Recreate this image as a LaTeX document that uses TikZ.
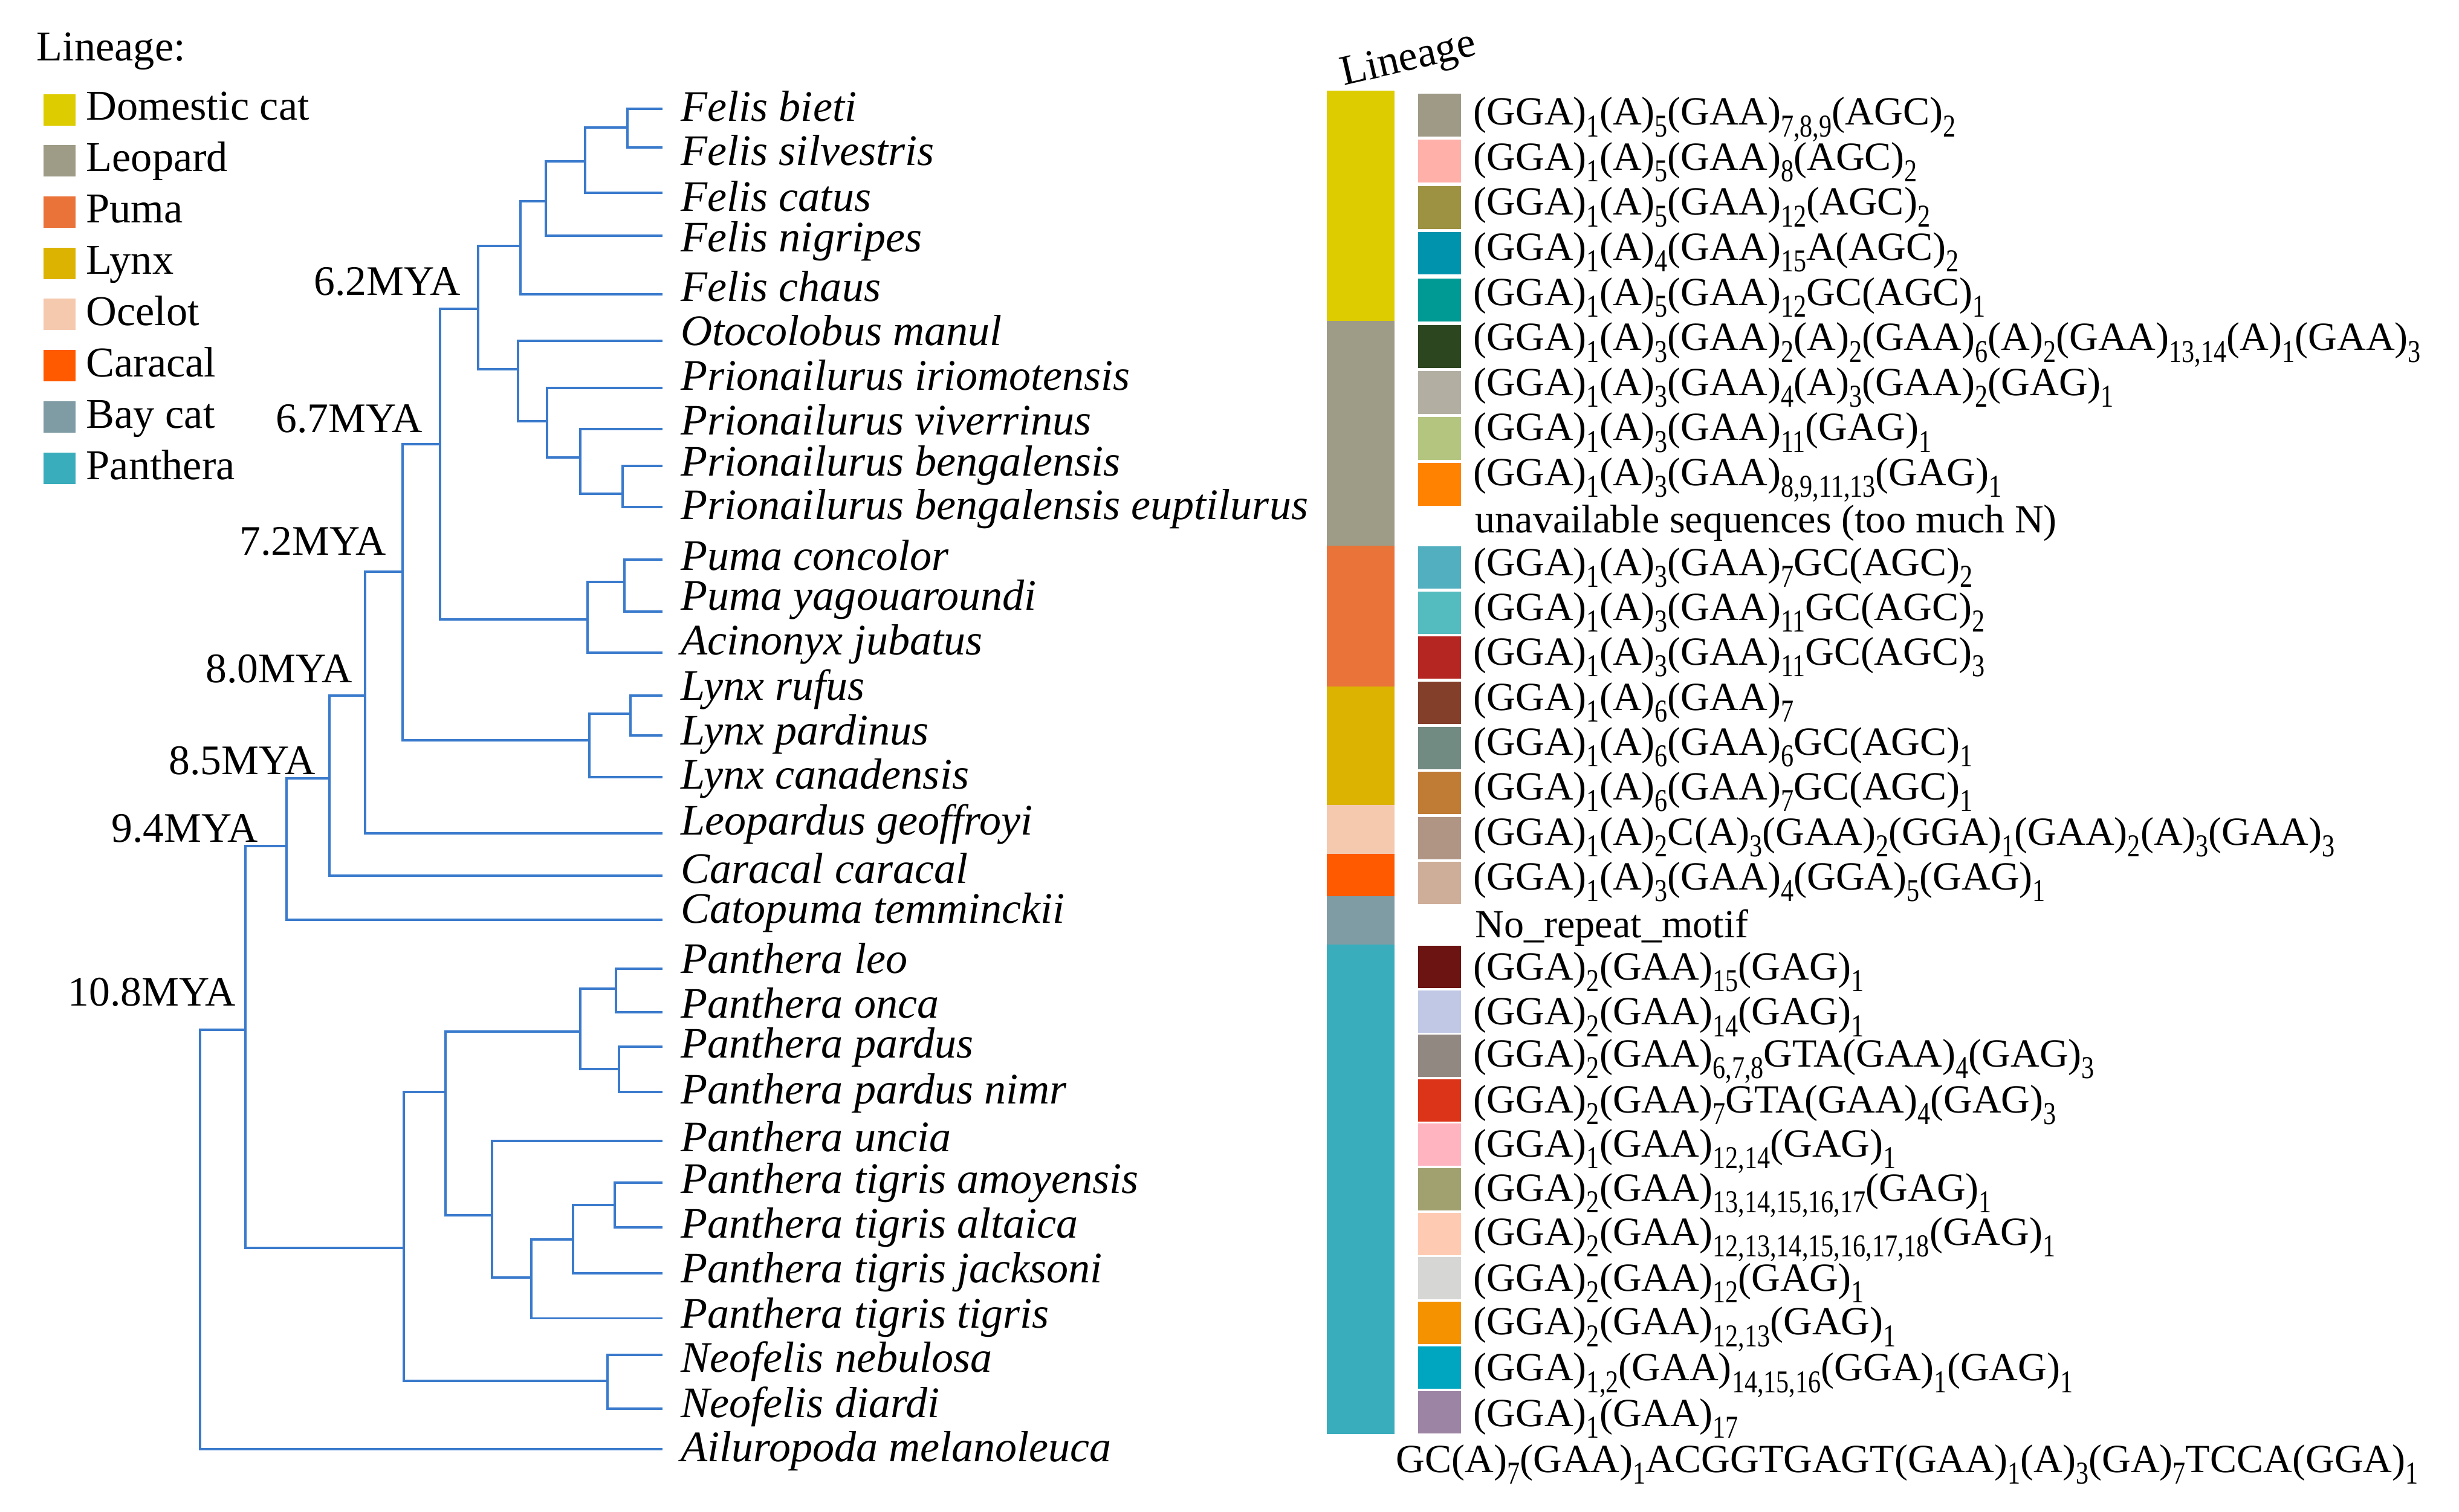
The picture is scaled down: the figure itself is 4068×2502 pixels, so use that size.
\documentclass[tikz,border=0pt]{standalone}
\usepackage{fontspec}
\setmainfont{Liberation Serif}
\usepackage{graphicx}
% tree and lineage colours
\definecolor{treeblue}{RGB}{58,122,204}
\definecolor{cdom}{RGB}{221,204,0}
\definecolor{cleo}{RGB}{158,155,134}
\definecolor{cpum}{RGB}{233,115,57}
\definecolor{clyn}{RGB}{220,179,0}
\definecolor{coce}{RGB}{245,201,174}
\definecolor{ccar}{RGB}{255,90,0}
\definecolor{cbay}{RGB}{127,156,164}
\definecolor{cpan}{RGB}{58,173,189}
% motif colours
\definecolor{m1}{HTML}{9E9A86}
\definecolor{m2}{HTML}{FFB0A8}
\definecolor{m3}{HTML}{9C9241}
\definecolor{m4}{HTML}{0093AE}
\definecolor{m5}{HTML}{009A95}
\definecolor{m6}{HTML}{2C4720}
\definecolor{m7}{HTML}{B2AFA2}
\definecolor{m8}{HTML}{B4C57F}
\definecolor{m9}{HTML}{FF8200}
\definecolor{m11}{HTML}{52AFC0}
\definecolor{m12}{HTML}{54BBBE}
\definecolor{m13}{HTML}{B52622}
\definecolor{m14}{HTML}{843F2B}
\definecolor{m15}{HTML}{718B82}
\definecolor{m16}{HTML}{C07B35}
\definecolor{m17}{HTML}{B09585}
\definecolor{m18}{HTML}{CEAE98}
\definecolor{m20}{HTML}{6B1412}
\definecolor{m21}{HTML}{C1C8E5}
\definecolor{m22}{HTML}{928882}
\definecolor{m23}{HTML}{DC3418}
\definecolor{m24}{HTML}{FFB4C0}
\definecolor{m25}{HTML}{A0A16F}
\definecolor{m26}{HTML}{FECBB2}
\definecolor{m27}{HTML}{D6D6D4}
\definecolor{m28}{HTML}{F59200}
\definecolor{m29}{HTML}{00A6C0}
\definecolor{m30}{HTML}{9C84A5}
\newcommand{\sbs}[1]{\raisebox{-5.5pt}{\scalebox{1}[1.25]{\fontsize{12}{12}\selectfont #1}}}
\tikzset{
  branch/.style={draw=treeblue, line width=0.9pt},
  species/.style={font=\fontsize{20.5}{24}\selectfont\itshape, anchor=base west, inner sep=0pt},
  mya/.style={font=\fontsize{19.8}{24}\selectfont, anchor=base west, inner sep=0pt},
  legtext/.style={font=\fontsize{20}{24}\selectfont, anchor=base west, inner sep=0pt},
  seq/.style={font=\fontsize{18.8}{22}\selectfont, anchor=base west, inner sep=0pt}
}
\begin{document}
\begin{tikzpicture}[x=0.01cm, y=-0.01cm]
    \useasboundingbox (0,0) rectangle (4068,2502);
    % legend
    \node[legtext] (lgtitle) at (60,100) {Lineage:};
    \fill[cdom] (71.5,155.6) rectangle +(53.5,52);
    \fill[cleo] (71.5,240.3) rectangle +(53.5,52);
    \fill[cpum] (71.5,325) rectangle +(53.5,52);
    \fill[clyn] (71.5,409.7) rectangle +(53.5,52);
    \fill[coce] (71.5,494.4) rectangle +(53.5,52);
    \fill[ccar] (71.5,579.1) rectangle +(53.5,52);
    \fill[cbay] (71.5,663.8) rectangle +(53.5,52);
    \fill[cpan] (71.5,748.5) rectangle +(53.5,52);
    \node[legtext] (lgdom) at (142,198) {Domestic cat};
    \node[legtext] (lgleo) at (142,283) {Leopard};
    \node[legtext] (lgpum) at (142,368) {Puma};
    \node[legtext] (lglyn) at (142,453) {Lynx};
    \node[legtext] (lgoce) at (142,538) {Ocelot};
    \node[legtext] (lgcar) at (142,623.5) {Caracal};
    \node[legtext] (lgbay) at (142,708.6) {Bay cat};
    \node[legtext] (lgpan) at (142,793.7) {Panthera};
    % divergence times
    \node[mya] (m62) at (519,488) {6.2MYA};
    \node[mya] (m67) at (456,715.6) {6.7MYA};
    \node[mya] (m72) at (396,918) {7.2MYA};
    \node[mya] (m80) at (340,1129) {8.0MYA};
    \node[mya] (m85) at (279,1281) {8.5MYA};
    \node[mya] (m94) at (184,1393.6) {9.4MYA};
    \node[mya] (m108) at (112,1664) {10.8MYA};
    % species
    \node[species] (bieti) at (1126,200) {Felis bieti};
    \node[species] (silv) at (1126,273) {Felis silvestris};
    \node[species] (catus) at (1126,349) {Felis catus};
    \node[species] (nigr) at (1126,416) {Felis nigripes};
    \node[species] (chaus) at (1126,498) {Felis chaus};
    \node[species] (manul) at (1126,571.5) {Otocolobus manul};
    \node[species] (irio) at (1126,645) {Prionailurus iriomotensis};
    \node[species] (viv) at (1126,719.5) {Prionailurus viverrinus};
    \node[species] (beng) at (1126,787) {Prionailurus bengalensis};
    \node[species] (eupt) at (1126,859) {Prionailurus bengalensis euptilurus};
    \node[species] (conc) at (1126,943) {Puma concolor};
    \node[species] (yag) at (1126,1009) {Puma yagouaroundi};
    \node[species] (jub) at (1126,1083) {Acinonyx jubatus};
    \node[species] (rufus) at (1126,1158) {Lynx rufus};
    \node[species] (pard) at (1126,1232) {Lynx pardinus};
    \node[species] (canad) at (1126,1305) {Lynx canadensis};
    \node[species] (geof) at (1126,1381) {Leopardus geoffroyi};
    \node[species] (carac) at (1126,1461) {Caracal caracal};
    \node[species] (temm) at (1126,1527.5) {Catopuma temminckii};
    \node[species] (leo) at (1126,1610) {Panthera leo};
    \node[species] (onca) at (1126,1684) {Panthera onca};
    \node[species] (ppard) at (1126,1750) {Panthera pardus};
    \node[species] (nimr) at (1126,1826) {Panthera pardus nimr};
    \node[species] (uncia) at (1126,1905) {Panthera uncia};
    \node[species] (amoy) at (1126,1974) {Panthera tigris amoyensis};
    \node[species] (alta) at (1126,2048) {Panthera tigris altaica};
    \node[species] (jack) at (1126,2122) {Panthera tigris jacksoni};
    \node[species] (tigr) at (1126,2197) {Panthera tigris tigris};
    \node[species] (nebu) at (1126,2270.7) {Neofelis nebulosa};
    \node[species] (diar) at (1126,2345) {Neofelis diardi};
    \node[species] (ailu) at (1126,2418) {Ailuropoda melanoleuca};
    % branch tips
    \coordinate (tbieti) at (1096,180);
    \coordinate (tsilv) at (1096,244);
    \coordinate (tcatus) at (1096,319);
    \coordinate (tnigr) at (1096,390);
    \coordinate (tchaus) at (1096,487);
    \coordinate (tmanul) at (1096,564);
    \coordinate (tirio) at (1096,642);
    \coordinate (tviv) at (1096,710);
    \coordinate (tbeng) at (1096,771);
    \coordinate (teupt) at (1096,839);
    \coordinate (tconc) at (1096,926);
    \coordinate (tyag) at (1096,1012);
    \coordinate (tjub) at (1096,1080);
    \coordinate (trufus) at (1096,1151);
    \coordinate (tpard) at (1096,1217);
    \coordinate (tcanad) at (1096,1286);
    \coordinate (tgeof) at (1096,1379);
    \coordinate (tcarac) at (1096,1449);
    \coordinate (ttemm) at (1096,1522);
    \coordinate (tleo) at (1096,1603);
    \coordinate (tonca) at (1096,1675);
    \coordinate (tppard) at (1096,1732);
    \coordinate (tnimr) at (1096,1807);
    \coordinate (tuncia) at (1096,1888);
    \coordinate (tamoy) at (1096,1957);
    \coordinate (talta) at (1096,2031);
    \coordinate (tjack) at (1096,2107);
    \coordinate (ttigr) at (1096,2181.5);
    \coordinate (tnebu) at (1096,2242);
    \coordinate (tdiar) at (1096,2331);
    \coordinate (tailu) at (1096,2398);
    % inner nodes
    \coordinate (fA) at (1038,211);
    \coordinate (fB) at (968,267);
    \coordinate (fC) at (903,333);
    \coordinate (fD) at (861,407);
    \coordinate (pA) at (1030,817);
    \coordinate (pB) at (960,757);
    \coordinate (pC) at (905,697);
    \coordinate (pD) at (857,611);
    \coordinate (fE) at (791,511);
    \coordinate (uA) at (1033,963);
    \coordinate (uB) at (972,1025);
    \coordinate (n62) at (728,735);
    \coordinate (yA) at (1043,1181);
    \coordinate (yB) at (975,1225);
    \coordinate (n67) at (666,946);
    \coordinate (n72) at (604,1151);
    \coordinate (n80) at (545,1288);
    \coordinate (n85) at (474,1400);
    \coordinate (kA) at (1019,1636);
    \coordinate (kB) at (1024,1769);
    \coordinate (kC) at (960,1707);
    \coordinate (kD) at (1017,1994);
    \coordinate (kE) at (948,2051);
    \coordinate (kF) at (879,2114);
    \coordinate (kG) at (814,2011);
    \coordinate (kH) at (737,1807);
    \coordinate (kI) at (1005,2285);
    \coordinate (kJ) at (668,2065);
    \coordinate (n94) at (406,1704);
    \coordinate (root) at (331,1704);
    % branches
    \draw[branch] (tbieti) -| (fA) |- (tsilv);
    \draw[branch] (fA) -| (fB) |- (tcatus);
    \draw[branch] (fB) -| (fC) |- (tnigr);
    \draw[branch] (fC) -| (fD) |- (tchaus);
    \draw[branch] (tbeng) -| (pA) |- (teupt);
    \draw[branch] (tviv) -| (pB) |- (pA);
    \draw[branch] (tirio) -| (pC) |- (pB);
    \draw[branch] (tmanul) -| (pD) |- (pC);
    \draw[branch] (fD) -| (fE) |- (pD);
    \draw[branch] (tconc) -| (uA) |- (tyag);
    \draw[branch] (uA) -| (uB) |- (tjub);
    \draw[branch] (fE) -| (n62) |- (uB);
    \draw[branch] (trufus) -| (yA) |- (tpard);
    \draw[branch] (yA) -| (yB) |- (tcanad);
    \draw[branch] (n62) -| (n67) |- (yB);
    \draw[branch] (n67) -| (n72) |- (tgeof);
    \draw[branch] (n72) -| (n80) |- (tcarac);
    \draw[branch] (n80) -| (n85) |- (ttemm);
    \draw[branch] (tleo) -| (kA) |- (tonca);
    \draw[branch] (tppard) -| (kB) |- (tnimr);
    \draw[branch] (kA) -| (kC) |- (kB);
    \draw[branch] (tamoy) -| (kD) |- (talta);
    \draw[branch] (kD) -| (kE) |- (tjack);
    \draw[branch] (kE) -| (kF) |- (ttigr);
    \draw[branch] (tuncia) -| (kG) |- (kF);
    \draw[branch] (kC) -| (kH) |- (kG);
    \draw[branch] (tnebu) -| (kI) |- (tdiar);
    \draw[branch] (kH) -| (kJ) |- (kI);
    \draw[branch] (n85) -| (n94) |- (kJ);
    \draw[branch] (n94) -- (root) |- (tailu);
    % lineage bar
    \node[legtext, anchor=base west, rotate=13] (lintitle) at (2223,142) {Lineage};
    \fill[cdom] (2195,150.4) rectangle (2306.6,531);
    \fill[cleo] (2195,531) rectangle (2306.6,902.5);
    \fill[cpum] (2195,902.5) rectangle (2306.6,1135.7);
    \fill[clyn] (2195,1135.7) rectangle (2306.6,1332);
    \fill[coce] (2195,1332) rectangle (2306.6,1412.8);
    \fill[ccar] (2195,1412.8) rectangle (2306.6,1482.7);
    \fill[cbay] (2195,1482.7) rectangle (2306.6,1563);
    \fill[cpan] (2195,1563) rectangle (2306.6,2372.7);
    % motif swatches
    \fill[m1] (2346,155) rectangle +(71,70.5);
    \fill[m2] (2346,231) rectangle +(71,70.5);
    \fill[m3] (2346,308) rectangle +(71,70.5);
    \fill[m4] (2346,383.5) rectangle +(71,70.5);
    \fill[m5] (2346,461) rectangle +(71,70.5);
    \fill[m6] (2346,538) rectangle +(71,70.5);
    \fill[m7] (2346,614) rectangle +(71,70.5);
    \fill[m8] (2346,690) rectangle +(71,70.5);
    \fill[m9] (2346,766) rectangle +(71,70.5);
    \fill[m11] (2346,903.6) rectangle +(71,70);
    \fill[m12] (2346,978.6) rectangle +(71,70);
    \fill[m13] (2346,1053) rectangle +(71,70);
    \fill[m14] (2346,1128) rectangle +(71,70);
    \fill[m15] (2346,1203) rectangle +(71,70);
    \fill[m16] (2346,1277) rectangle +(71,70);
    \fill[m17] (2346,1351.5) rectangle +(71,70);
    \fill[m18] (2346,1425.5) rectangle +(71,70);
    \fill[m20] (2346,1565) rectangle +(71,70);
    \fill[m21] (2346,1638.6) rectangle +(71,70);
    \fill[m22] (2346,1712) rectangle +(71,70);
    \fill[m23] (2346,1785.6) rectangle +(71,70);
    \fill[m24] (2346,1859) rectangle +(71,70);
    \fill[m25] (2346,1932.5) rectangle +(71,70);
    \fill[m26] (2346,2006.6) rectangle +(71,70);
    \fill[m27] (2346,2080) rectangle +(71,70);
    \fill[m28] (2346,2154) rectangle +(71,70);
    \fill[m29] (2346,2228) rectangle +(71,70);
    \fill[m30] (2346,2301.7) rectangle +(71,70);
    % motif texts
    \node[seq] (q1) at (2437,206.7) {(GGA)\sbs{1}(A)\sbs{5}(GAA)\sbs{7,8,9}(AGC)\sbs{2}};
    \node[seq] (q2) at (2437,281.3) {(GGA)\sbs{1}(A)\sbs{5}(GAA)\sbs{8}(AGC)\sbs{2}};
    \node[seq] (q3) at (2437,355.9) {(GGA)\sbs{1}(A)\sbs{5}(GAA)\sbs{12}(AGC)\sbs{2}};
    \node[seq] (q4) at (2437,430.5) {(GGA)\sbs{1}(A)\sbs{4}(GAA)\sbs{15}A(AGC)\sbs{2}};
    \node[seq] (q5) at (2437,505.1) {(GGA)\sbs{1}(A)\sbs{5}(GAA)\sbs{12}GC(AGC)\sbs{1}};
    \node[seq] (q6) at (2437,579.7) {(GGA)\sbs{1}(A)\sbs{3}(GAA)\sbs{2}(A)\sbs{2}(GAA)\sbs{6}(A)\sbs{2}(GAA)\sbs{13,14}(A)\sbs{1}(GAA)\sbs{3}};
    \node[seq] (q7) at (2437,654.3) {(GGA)\sbs{1}(A)\sbs{3}(GAA)\sbs{4}(A)\sbs{3}(GAA)\sbs{2}(GAG)\sbs{1}};
    \node[seq] (q8) at (2437,728.9) {(GGA)\sbs{1}(A)\sbs{3}(GAA)\sbs{11}(GAG)\sbs{1}};
    \node[seq] (q9) at (2437,803.5) {(GGA)\sbs{1}(A)\sbs{3}(GAA)\sbs{8,9,11,13}(GAG)\sbs{1}};
    \node[seq] (q10) at (2440,881) {unavailable sequences (too much N)};
    \node[seq] (q11) at (2437,952) {(GGA)\sbs{1}(A)\sbs{3}(GAA)\sbs{7}GC(AGC)\sbs{2}};
    \node[seq] (q12) at (2437,1026) {(GGA)\sbs{1}(A)\sbs{3}(GAA)\sbs{11}GC(AGC)\sbs{2}};
    \node[seq] (q13) at (2437,1100) {(GGA)\sbs{1}(A)\sbs{3}(GAA)\sbs{11}GC(AGC)\sbs{3}};
    \node[seq] (q14) at (2437,1175) {(GGA)\sbs{1}(A)\sbs{6}(GAA)\sbs{7}};
    \node[seq] (q15) at (2437,1249) {(GGA)\sbs{1}(A)\sbs{6}(GAA)\sbs{6}GC(AGC)\sbs{1}};
    \node[seq] (q16) at (2437,1323.5) {(GGA)\sbs{1}(A)\sbs{6}(GAA)\sbs{7}GC(AGC)\sbs{1}};
    \node[seq] (q17) at (2437,1398.5) {(GGA)\sbs{1}(A)\sbs{2}C(A)\sbs{3}(GAA)\sbs{2}(GGA)\sbs{1}(GAA)\sbs{2}(A)\sbs{3}(GAA)\sbs{3}};
    \node[seq] (q18) at (2437,1472.4) {(GGA)\sbs{1}(A)\sbs{3}(GAA)\sbs{4}(GGA)\sbs{5}(GAG)\sbs{1}};
    \node[seq] (q19) at (2440,1551.5) {No\_repeat\_motif};
    \node[seq] (q20) at (2437,1621.6) {(GGA)\sbs{2}(GAA)\sbs{15}(GAG)\sbs{1}};
    \node[seq] (q21) at (2437,1695.7) {(GGA)\sbs{2}(GAA)\sbs{14}(GAG)\sbs{1}};
    \node[seq] (q22) at (2437,1765.5) {(GGA)\sbs{2}(GAA)\sbs{6,7,8}GTA(GAA)\sbs{4}(GAG)\sbs{3}};
    \node[seq] (q23) at (2437,1841.4) {(GGA)\sbs{2}(GAA)\sbs{7}GTA(GAA)\sbs{4}(GAG)\sbs{3}};
    \node[seq] (q24) at (2437,1914.3) {(GGA)\sbs{1}(GAA)\sbs{12,14}(GAG)\sbs{1}};
    \node[seq] (q25) at (2437,1987) {(GGA)\sbs{2}(GAA)\sbs{13,14,15,16,17}(GAG)\sbs{1}};
    \node[seq] (q26) at (2437,2060) {(GGA)\sbs{2}(GAA)\sbs{12,13,14,15,16,17,18}(GAG)\sbs{1}};
    \node[seq] (q27) at (2437,2136) {(GGA)\sbs{2}(GAA)\sbs{12}(GAG)\sbs{1}};
    \node[seq] (q28) at (2437,2208.8) {(GGA)\sbs{2}(GAA)\sbs{12,13}(GAG)\sbs{1}};
    \node[seq] (q29) at (2437,2284.7) {(GGA)\sbs{1,2}(GAA)\sbs{14,15,16}(GGA)\sbs{1}(GAG)\sbs{1}};
    \node[seq] (q30) at (2437,2360.6) {(GGA)\sbs{1}(GAA)\sbs{17}};
    \node[seq] (q31) at (2309,2436.5) {GC(A)\sbs{7}(GAA)\sbs{1}ACGGTGAGT(GAA)\sbs{1}(A)\sbs{3}(GA)\sbs{7}TCCA(GGA)\sbs{1}};
  \end{tikzpicture}
\end{document}
